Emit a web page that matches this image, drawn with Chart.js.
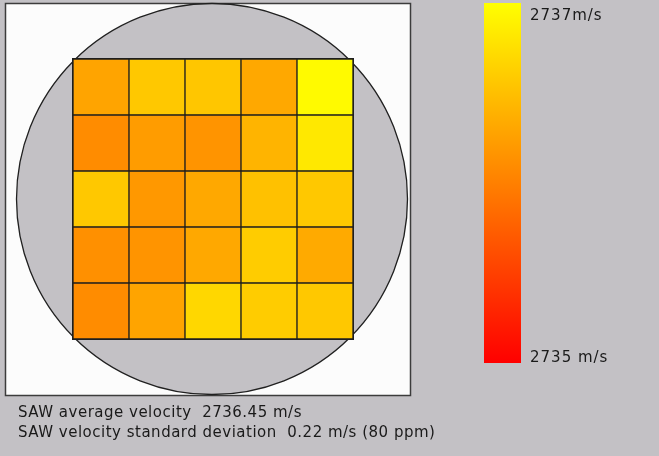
<!DOCTYPE html>
<html>
<head>
<meta charset="utf-8">
<script src="https://cdn.jsdelivr.net/npm/chart.js@4.4.1/dist/chart.umd.min.js"></script>
<style>
  html, body { margin: 0; padding: 0; background: #c3c1c5; }
  canvas { display: block; }
</style>
</head>
<body>
<canvas id="waferMap" width="659" height="456"></canvas>
<script>
// wafer grid columns (left to right)
const columns = ['C1', 'C2', 'C3', 'C4', 'C5'];
// SAW velocity (m/s) per cell, rows listed top to bottom
const row1 = [2736.29, 2736.57, 2736.55, 2736.32, 2736.96];
const row2 = [2736.10, 2736.22, 2736.16, 2736.41, 2736.82];
const row3 = [2736.57, 2736.19, 2736.32, 2736.51, 2736.57];
const row4 = [2736.13, 2736.16, 2736.32, 2736.60, 2736.33];
const row5 = [2736.10, 2736.29, 2736.69, 2736.60, 2736.57];
// colour scale limits
const scaleMin = 2735;
const scaleMax = 2737;
const scaleLabels = ['2737m/s', '2735 m/s'];
const summary = [
    'SAW average velocity  2736.45 m/s',
    'SAW velocity standard deviation  0.22 m/s (80 ppm)'
];

function velColor(v) {
    var t = (v - scaleMin) / (scaleMax - scaleMin);
    t = Math.max(0, Math.min(1, t));
    return 'rgb(255,' + Math.round(255 * t) + ',0)';
}

// stacked bars: bottom row first
var rowsBottomUp = [row5, row4, row3, row2, row1];
var datasets = rowsBottomUp.map(function(row, i) {
    return {
        label: 'Row ' + (5 - i),
        data: row.map(function() { return 1; }),
        velocities: row,
        backgroundColor: row.map(velColor),
        borderColor: '#1e1e1e',
        borderWidth: 1,
        borderSkipped: false,
        barPercentage: 1,
        categoryPercentage: 1
    };
});

var waferPlugin = {
    id: 'wafer',
    beforeDraw: function(chart) {
        var ctx = chart.ctx;
        var a = chart.chartArea;
        ctx.save();
        ctx.fillStyle = '#c3c1c5';
        ctx.fillRect(0, 0, chart.width, chart.height);
        // white frame
        ctx.fillStyle = '#fcfcfc';
        ctx.fillRect(5, 3, 406, 393);
        ctx.strokeStyle = '#3c3c3c';
        ctx.lineWidth = 1.5;
        ctx.strokeRect(5.5, 3.5, 405, 392);
        // wafer
        var cx = (a.left + a.right) / 2 - 1;
        var cy = (a.top + a.bottom) / 2;
        ctx.beginPath();
        ctx.arc(cx, cy, 195.5, 0, Math.PI * 2);
        ctx.fillStyle = '#c3c1c5';
        ctx.fill();
        ctx.strokeStyle = '#202020';
        ctx.lineWidth = 1.3;
        ctx.stroke();
        ctx.restore();
    },
    afterDatasetsDraw: function(chart) {
        var ctx = chart.ctx;
        var a = chart.chartArea;
        ctx.save();
        ctx.strokeStyle = '#1e1e1e';
        ctx.lineWidth = 1;
        ctx.strokeRect(a.left - 0.5, a.top - 0.5, a.right - a.left + 1, a.bottom - a.top + 1);
        ctx.restore();
    },
    afterDraw: function(chart) {
        var ctx = chart.ctx;
        ctx.save();
        // colour bar
        var x0 = 484, y0 = 3, w = 37, h = 360;
        var grad = ctx.createLinearGradient(0, y0 + h, 0, y0);
        grad.addColorStop(0, velColor(scaleMin));
        grad.addColorStop(0.5, velColor((scaleMin + scaleMax) / 2));
        grad.addColorStop(1, velColor(scaleMax));
        ctx.fillStyle = grad;
        ctx.fillRect(x0, y0, w, h);
        ctx.fillStyle = '#1a1a1a';
        ctx.font = '15px "DejaVu Sans"';
        ctx.textBaseline = 'alphabetic';
        ctx.letterSpacing = '1px';
        ctx.fillText(scaleLabels[0], 530, 20);
        ctx.fillText(scaleLabels[1], 530, 362);
        ctx.letterSpacing = '0.5px';
        ctx.fillText(summary[0], 18, 417);
        ctx.fillText(summary[1], 18, 437);
        ctx.restore();
    }
};

var chart = new Chart(document.getElementById('waferMap').getContext('2d'), {
    type: 'bar',
    data: { labels: columns, datasets: datasets },
    options: {
        responsive: false,
        animation: false,
        devicePixelRatio: 1,
        layout: { padding: { left: 73, top: 59, right: 306, bottom: 117 } },
        plugins: { legend: { display: false }, tooltip: { enabled: false } },
        scales: {
            x: { stacked: true, display: false },
            y: { stacked: true, display: false, min: 0, max: 5 }
        }
    },
    plugins: [waferPlugin]
});
</script>
</body>
</html>
